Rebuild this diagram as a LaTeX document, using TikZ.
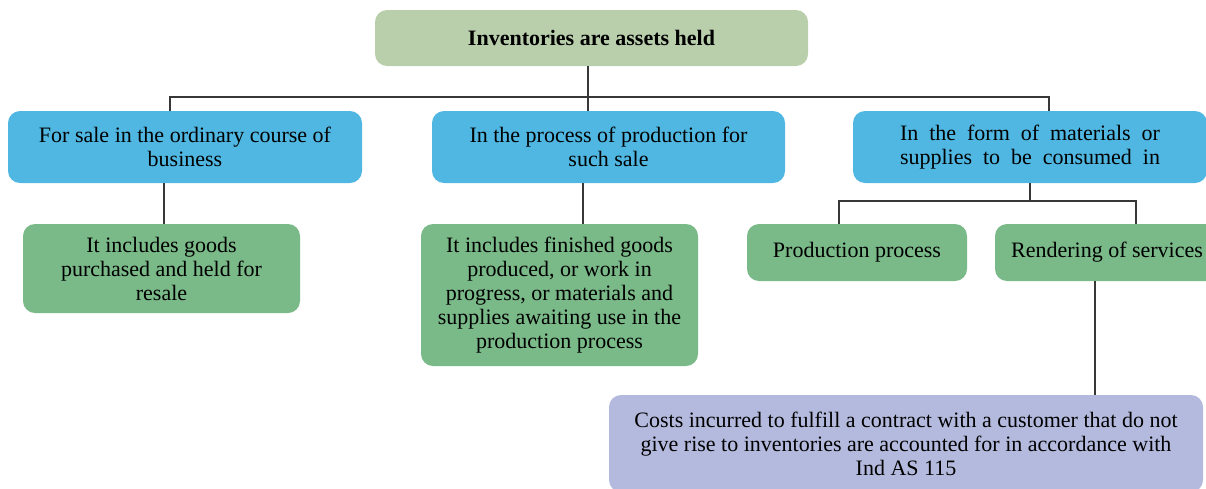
\documentclass[tikz,border=0pt]{standalone}
\usepackage{fontspec}
\setmainfont{Liberation Serif}
\definecolor{topgreen}{RGB}{185,207,172}
\definecolor{boxblue}{RGB}{79,183,225}
\definecolor{boxgreen}{RGB}{122,185,136}
\definecolor{boxpurple}{RGB}{180,186,221}
\definecolor{linegray}{RGB}{55,55,55}
\begin{document}
\begin{tikzpicture}[x=1pt,y=-1pt,
  box/.style={rounded corners=12pt, inner sep=0pt, align=center, text=black,
    font=\fontsize{22}{24}\selectfont},
  conn/.style={draw=linegray, line width=1.2pt}]
\useasboundingbox (0,0) rectangle (1206,488);
\node[box, fill=topgreen, minimum width=433pt, minimum height=56pt, font=\fontsize{22}{24}\selectfont\bfseries] (top) at (591.5,38) {Inventories are assets held};
\node[box, fill=boxblue, minimum width=354pt, minimum height=72pt] (b1) at (185,147) {For sale in the ordinary course of\\business};
\node[box, fill=boxblue, minimum width=353pt, minimum height=72pt] (b2) at (608.5,147) {In the process of production for\\such sale};
\node[box, fill=boxblue, minimum width=354pt, minimum height=72pt] (b3) at (1030,147) {\makebox[260pt][s]{In the form of materials or}\\\makebox[260pt][s]{supplies to be consumed in}};
\node[box, fill=boxgreen, minimum width=277pt, minimum height=89pt] (g1) at (161.5,268.5) {It includes goods\\purchased and held for\\resale};
\node[box, fill=boxgreen, minimum width=277pt, minimum height=142pt] (g2) at (559.5,295) {It includes finished goods\\produced, or work in\\progress, or materials and\\supplies awaiting use in the\\production process};
\node[box, fill=boxgreen, minimum width=220pt, minimum height=57pt] (g3) at (857,252.5) {Production process};
\node[box, fill=boxgreen, minimum width=224pt, minimum height=57pt] (g4) at (1107,252.5) {Rendering of services};
\node[box, fill=boxpurple, minimum width=594pt, minimum height=97pt] (p) at (906,443.5) {Costs incurred to fulfill a contract with a customer that do not\\give rise to inventories are accounted for in accordance with\\Ind AS 115};
% connectors
\coordinate (j0) at (588,97);
\coordinate (jl) at (170,97);
\coordinate (jr) at (1049,97);
\draw[conn] (top.south -| j0) -- (j0);
\draw[conn] (b1.north -| jl) -- (jl) -- (jr) -- (b3.north -| jr);
\draw[conn] (j0) -- (b2.north -| j0);
\coordinate (k1) at (164,0);
\draw[conn] (b1.south -| k1) -- (g1.north -| k1);
\coordinate (k2) at (583,0);
\draw[conn] (b2.south -| k2) -- (g2.north -| k2);
\coordinate (j3) at (1030,201);
\coordinate (j3l) at (839,201);
\coordinate (j3r) at (1136,201);
\draw[conn] (b3.south -| j3) -- (j3);
\draw[conn] (g3.north -| j3l) -- (j3l) -- (j3r) -- (g4.north -| j3r);
\coordinate (k4) at (1095,0);
\draw[conn] (g4.south -| k4) -- (p.north -| k4);
\end{tikzpicture}
\end{document}
